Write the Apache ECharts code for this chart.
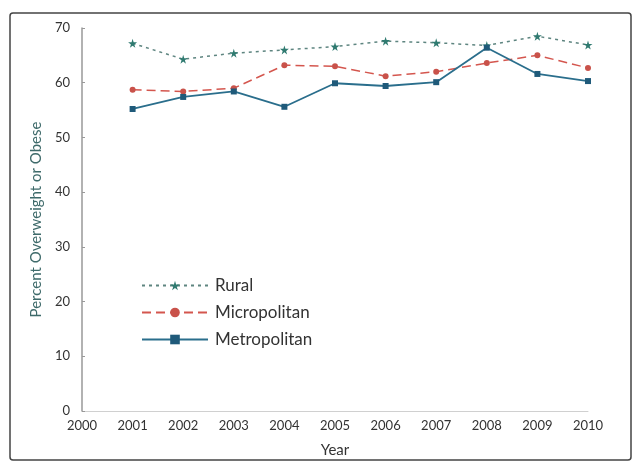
<!DOCTYPE html>
<html>
<head>
<meta charset="utf-8">
<script src="https://cdn.jsdelivr.net/npm/echarts@6/dist/echarts.min.js"></script>
<style>
html,body{margin:0;padding:0;background:#fff;}
#chart{width:636px;height:465px;}
</style>
</head>
<body>
<div id="chart"></div>
<script>
var years = [2001, 2002, 2003, 2004, 2005, 2006, 2007, 2008, 2009, 2010];
var rural = [67.2, 64.3, 65.4, 66.0, 66.6, 67.6, 67.3, 66.8, 68.5, 66.9];
var micropolitan = [58.7, 58.4, 59.0, 63.2, 63.0, 61.2, 62.0, 63.6, 65.0, 62.7];
var metropolitan = [55.2, 57.4, 58.4, 55.6, 59.9, 59.4, 60.1, 66.4, 61.6, 60.3];
var seriesNames = ['Rural', 'Micropolitan', 'Metropolitan'];

function pairs(vals) { return years.map(function (y, i) { return [y, vals[i]]; }); }

var star = 'path://M50,0 L61,35 L98,35 L68,57 L79,91 L50,70 L21,91 L32,57 L2,35 L39,35 Z';
var font = 'Lato, "Open Sans", sans-serif';

var chart = echarts.init(document.getElementById('chart'));
chart.setOption({
  animation: false,
  backgroundColor: '#ffffff',
  graphic: [{
    type: 'rect',
    shape: { x: 10, y: 13, width: 621, height: 447, r: 3 },
    style: { fill: 'none', stroke: '#444', lineWidth: 1.5 },
    silent: true
  }],
  grid: { left: 82, right: 48, top: 28, bottom: 54 },
  legend: {
    orient: 'vertical',
    left: 136,
    top: 272,
    itemWidth: 66,
    itemHeight: 12,
    itemGap: 10,
    textStyle: { fontFamily: font, fontSize: 17, color: '#333', padding: [0, 0, 0, 2] },
    data: seriesNames
  },
  xAxis: {
    type: 'value',
    min: 2000, max: 2010, interval: 1,
    name: 'Year', nameLocation: 'middle', nameGap: 32,
    nameTextStyle: { fontFamily: font, fontSize: 15, color: '#333' },
    axisLine: { show: true, lineStyle: { color: '#d0d0d0', width: 1 } },
    axisTick: { show: false },
    splitLine: { show: false },
    axisLabel: { fontFamily: font, fontSize: 13, color: '#333', margin: 8,
      formatter: function (v) { return String(v); } }
  },
  yAxis: {
    type: 'value',
    min: 0, max: 70, interval: 10,
    name: 'Percent Overweight or Obese', nameLocation: 'middle', nameGap: 36,
    nameTextStyle: { fontFamily: font, fontSize: 15, color: '#3e6a6a', padding: [0, 0, 0, 0] },
    axisLine: { show: true, lineStyle: { color: '#999', width: 1.5 } },
    axisTick: { show: true, length: 3, inside: true, lineStyle: { color: '#999' } },
    splitLine: { show: false },
    axisLabel: { fontFamily: font, fontSize: 13, color: '#333', margin: 12 }
  },
  series: [
    {
      name: 'Rural', type: 'line', data: pairs(rural),
      symbol: star, symbolSize: 9,
      lineStyle: { color: '#5e8580', width: 1.5, type: [3, 4] },
      itemStyle: { color: '#2f7a70' }
    },
    {
      name: 'Micropolitan', type: 'line', data: pairs(micropolitan),
      symbol: 'circle', symbolSize: 6,
      lineStyle: { color: '#d4564e', width: 1.5, type: [9, 5] },
      itemStyle: { color: '#c9524a' }
    },
    {
      name: 'Metropolitan', type: 'line', data: pairs(metropolitan),
      symbol: 'rect', symbolSize: 6,
      lineStyle: { color: '#2a6e8c', width: 1.8 },
      itemStyle: { color: '#1f5a7a' }
    }
  ]
});
</script>
</body>
</html>
